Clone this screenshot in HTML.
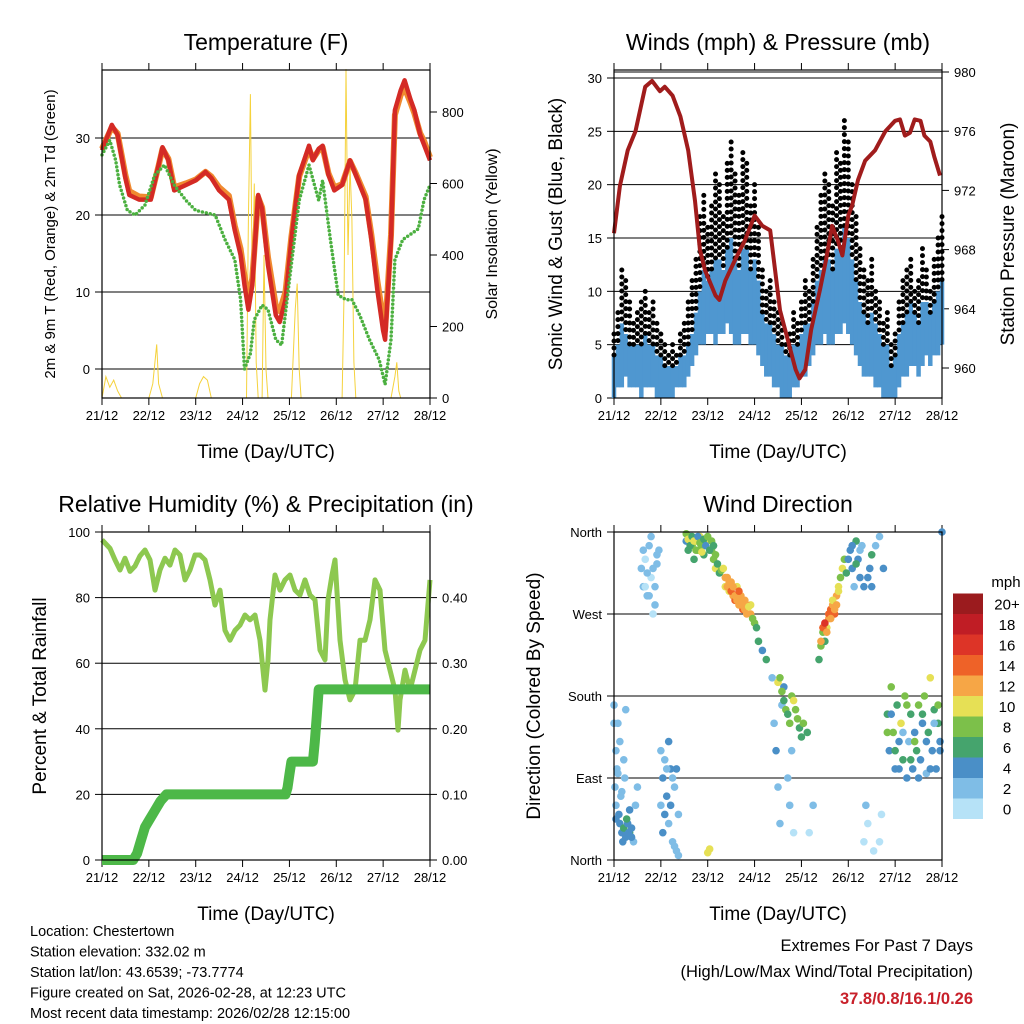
<!DOCTYPE html>
<html><head><meta charset="utf-8"><style>
body{margin:0;background:#fff;}
svg{display:block;font-family:"Liberation Sans",sans-serif;}
</style></head><body>
<svg id="c" width="1024" height="1024" viewBox="0 0 1024 1024" xmlns="http://www.w3.org/2000/svg"></svg>
<script>
// ---- Temperature panel data ----
const tempHours=[0,5,8,12,14,19,25,29,31,34,37,43,48,53,56,60,65,68,71,73,75,77,80,82,85,89,91,94,97,101,106,108,111,113,116,119,123,127,130,135,138,141,144,145,148,150,153,155,158,160,163,165,168];
const temp2m=[28.4,31.7,30.4,24.8,22.6,22,22,26.5,28.8,27.1,23.2,23.9,24.5,25.6,24.8,23.2,22,18,14.8,10.9,7.7,10.9,22.6,20.8,13.5,7,6.1,9,16.8,25.2,29,27.1,28.6,29,25.2,23.2,23.9,27.1,25.2,22,16.8,10.3,5,3.8,16.8,33.6,36.2,37.5,35,33.6,30.4,29.1,27.1];
const temp9m=[28.6,31.4,30.6,25.2,23.1,22.4,22.3,26.4,28.6,27.3,23.6,24.1,24.6,25.6,25,23.6,22.5,18.6,15.6,12,9,11.8,22.3,21,14.5,8.2,7.5,10,17.2,25,28.6,27.3,28.4,28.8,25.4,23.6,24,27,25.4,22.4,17.4,11.5,6.5,5,17.4,33,35.6,36.5,34.6,33.2,30.6,29.6,27.5];
const dewHours=[0,4,7,9,13,17,22,27,32,37,43,48,53,58,63,68,71,73,76,78,82,85,89,92,96,101,106,111,113,117,121,125,128,132,137,142,145,148,150,154,158,162,165,168];
const dew2m=[27.8,29.7,27.1,23.9,20.6,20,21.3,25.2,26.5,23.9,21.9,20.6,20.3,20,16.8,14.2,9,0,2,6.4,8.3,7.7,3.8,3.1,11.5,21.9,26.5,21.9,24.5,16.8,9.6,9,9,7,3.8,1.2,-2,3.8,14.2,16.8,17.5,18.2,22,23.9];
const solarHours=[0,2,4,6,8,10,24,26,28,29,31,48,50,52,54,56,74,75,76,77,78,79,80,82,83,84,85,97,99,100,101,102,123,124,125,126,127,128,129,130,148,150,151,152,153,168];
const solarVals=[0,60,30,50,20,0,0,40,150,40,0,0,40,60,50,0,0,500,850,300,600,100,0,0,400,80,0,0,250,320,80,0,0,300,920,400,650,500,100,0,0,60,100,20,0,0];
const tempTicks=[0,10,20,30];
const solarTicks=[0,200,400,600,800];
const dayLabels=["21/12","22/12","23/12","24/12","25/12","26/12","27/12","28/12"];
// ---- Wind panel data ----
const gust=[6,8,12,11,9,7,8,9,10,8,9,7,6,5,4,5,4,6,7,9,11,13,17,19,16,18,21,20,17,22,24,21,19,23,22,18,20,16,12,10,11,9,8,7,5,6,8,7,9,11,10,13,16,19,21,20,18,23,22,26,24,20,17,14,12,11,13,10,9,7,8,5,6,9,11,12,13,10,11,14,12,10,13,15,17];
const windHigh=[4,5,7,6,5,5,5,5,6,5,5,4,4,3,3,3,3,4,4,5,6,8,10,12,11,12,13,13,12,14,15,13,12,14,14,12,13,11,8,7,7,6,5,5,4,4,5,5,6,7,7,9,11,12,13,13,12,14,14,16,15,13,11,9,8,7,8,7,6,5,5,3,4,6,7,8,9,8,7,9,9,8,9,10,11];
const windLow=[0,1,1,2,1,1,1,0,1,1,1,0,0,0,0,0,1,1,1,2,3,4,5,5,6,6,5,6,6,7,6,5,5,6,6,5,5,4,3,2,2,1,1,0,0,0,1,1,2,2,3,4,5,5,6,5,5,6,6,7,6,5,4,3,2,2,2,1,1,0,0,0,0,1,2,2,3,3,2,3,4,3,4,4,5];
const presHours=[0,3,7,11,16,19.5,23.5,26,30,34,38,41.5,44,46.6,52,54,57,62,67,72,76,80,82.5,85,89,93,95,98,101,105.5,108.6,111.7,114.7,117,120,122,125,128.6,133.7,139,144,146.5,149,151.6,154,157,159,162,164,167];
const pressure=[969.1,972.3,974.7,976,979,979.4,978.7,979,978.4,977,974.7,971.3,968,966.6,964.9,964.6,965.9,967.3,968.6,970.3,969.6,969.3,966.6,963.9,961.9,959.9,959.3,959.9,962.6,965.3,967.3,969.6,968.6,967.6,970.3,971,972.7,974,974.7,976,976.7,976.8,975.7,975.9,976.8,976.7,975.7,975.3,974.3,973];
const windTicks=[0,5,10,15,20,25,30];
const presTicks=[960,964,968,972,976,980];
// ---- RH panel data ----
const rhX=[102,110,115,120,125,130,135,140,145,150,155,160,165,170,175,180,185,190,195,200,205,210,215,220,225,230,235,240,245,250,255,260,263,265,268,270,275,280,285,290,295,300,305,310,315,320,325,328,332,335,340,345,350,355,360,365,370,375,380,385,390,395,398,400,405,410,415,420,425,430];
const rhVals=[97.6,95,91.5,88.4,92,88,89.6,92.7,94.5,91.5,82.3,88.4,92,89.9,94.5,93,85.4,88.4,93,93,91.5,85.4,77.7,82.3,70,67,70,71.6,74.7,73.2,74.7,67,57.9,51.8,61,73.2,86.9,82.3,85.4,86.9,82.3,80.8,85.4,80.8,79.3,64,61,79.3,86.9,91.5,67,55,48.8,51.8,67,67,73.2,85.4,82.3,64,57.9,51.8,39.6,48.8,57.9,51.8,57.9,64,67,85.4];
const rainHours=[0,16,18,20,22,24,26,28,30,33,94,95,96,97,108,109,110,111,168];
const rainVals=[0,0,0.01,0.03,0.05,0.06,0.07,0.08,0.09,0.1,0.1,0.11,0.13,0.15,0.15,0.18,0.22,0.26,0.26];
const rhTicks=[0,20,40,60,80,100];
const rainTicks=[0,0.1,0.2,0.3,0.4];
// ---- Wind direction data ----
const dirHoursA=[1,1,2,2,3,3,4,4,5,5,6,6,7,8,8,9,10,11,12,15,16,17,18,19,20,21,22,24,25,26,27,28,29,30,31,32,33,37,38,39,40,41,42,43,44,45,46,47,48,49,50,51,52,54,57,58,59,60,61,62,63,64,65,66,67,68,70,72,74,76,78,81,82,83,84,85,86,87,91,92,93,94,95,96,97,99,100,102,105,106,107,108,109,110,111,112,113,114,115,116,117,118,119,121,122,123,124,125,126,127,128,129,130,131,132,133,140,141,142,143,144,145,146,147,148,149,150,151,152,153,154,155,156,157,158,159,160,161,162,163,164,165,166,167,168];
const dirDegA=[120,60,150,95,40,130,30,75,35,110,25,165,40,30,55,35,20,60,80,300,330,290,345,310,320,280,335,60,90,110,70,40,100,20,80,10,50,350,340,355,345,330,350,340,355,345,335,350,8,12,340,330,320,315,300,310,295,305,290,285,300,280,290,275,285,270,280,260,240,230,220,200,150,120,80,40,170,190,180,175,165,155,145,135,150,140,30,60,220,235,250,240,255,265,275,280,270,290,300,310,320,330,315,340,320,300,350,330,310,345,20,60,40,320,300,10,160,120,190,140,100,170,130,150,110,180,90,130,160,100,140,120,170,110,150,180,95,140,200,120,165,100,150,130,360];
const dirSpeedA=[2,3,2,3,4,3,5,2,6,3,4,2,5,6,4,4,3,2,2,2,1,2,3,1,2,2,2,3,4,3,5,3,4,2,3,2,3,5,6,4,8,7,10,9,11,8,7,10,10,11,9,8,10,6,11,12,10,13,12,14,11,12,13,14,12,13,11,8,6,5,7,3,2,4,3,2,3,5,9,10,8,9,7,6,8,6,1,2,7,8,9,7,10,12,14,13,15,12,11,9,10,8,6,4,5,3,6,4,5,3,1,2,1,4,5,0,6,4,8,9,5,7,4,10,6,8,4,3,6,5,4,7,9,4,5,8,3,6,10,4,7,4,6,5,5];
const dirHoursB=[0.5,1.5,2.5,3.5,4.5,5.5,6.5,7.5,0,0,1,9,14,15,16,17,18,19,20,21,22,23,24,25,26,27,28,29,30,31,32,33,37,38,39,40,41,42,43,44,45,46,47,48,49,50,51,52,53,55,56,57,58,59,60,61,62,63,64,65,66,67,68,69,70,71,73,84,85,86,87,88,89,90,89,90,91,92,106,107,108,109,110,111,112,113,114,115,120,122,124,126,128,130,132,134,136,138,136,137,140,142,144,146,148,150,152,154,156,158,160,162,164,166,167];
const dirDegB=[80,100,50,70,20,90,45,30,150,170,45,25,320,340,300,315,290,355,270,300,325,340,120,30,50,100,130,60,90,15,100,5,358,352,345,355,350,340,355,348,338,352,345,355,340,350,345,335,325,318,320,310,300,305,295,300,290,285,295,280,285,275,280,278,270,265,255,195,200,185,175,165,160,150,90,60,120,30,240,255,260,250,270,265,285,275,280,295,330,345,325,340,300,310,335,345,355,320,20,50,140,160,120,100,140,170,110,130,90,160,130,100,150,170,120];
const dirSpeedB=[3,2,4,3,5,3,6,4,2,3,4,5,2,3,1,2,3,2,1,2,3,2,3,4,4,3,4,5,3,2,4,2,8,10,7,6,11,8,5,9,10,6,4,8,7,9,6,8,7,9,10,12,13,12,14,12,13,12,14,13,12,13,12,11,12,8,7,10,8,9,7,8,6,9,2,3,2,1,12,14,16,13,15,12,10,13,12,10,5,4,6,3,5,4,6,3,2,4,1,1,8,4,6,5,3,9,6,8,4,6,5,4,3,8,4];
const dirHours=dirHoursA.concat(dirHoursB);
const dirDeg=dirDegA.concat(dirDegB);
const dirSpeed=dirSpeedA.concat(dirSpeedB);
const speedLabels=["0","2","4","6","8","10","12","14","16","18","20+"];
const dirLabels=["North","East","South","West","North"];
const dirTicks=[0,90,180,270,360];

const NS="http://www.w3.org/2000/svg";
const svg=document.getElementById('c');
function mk(tag,attrs,parent){const e=document.createElementNS(NS,tag);for(const k in attrs)e.setAttribute(k,attrs[k]);(parent||svg).appendChild(e);return e;}
function txt(s,x,y,size,anchor,parent,extra){const e=mk('text',Object.assign({x:x,y:y,'font-size':size,'text-anchor':anchor||'middle',fill:'#000'},extra||{}),parent);e.textContent=s;return e;}
function lin(a0,a1,p0,p1){return v=>p0+(v-a0)/(a1-a0)*(p1-p0);}
function pathOf(xs,ys,fx,fy){let d='';for(let i=0;i<Math.min(xs.length,ys.length);i++){d+=(i?'L':'M')+fx(xs[i]).toFixed(1)+','+fy(ys[i]).toFixed(1);}return d;}

function frame(x0,y0,x1,y1,name,title,xlab){
  const g=mk('g',{});
  
  
  const fx=lin(0,168,x0,x1);
  dayLabels.forEach((s,i)=>{
    const x=fx(i*24);
    mk('line',{x1:x,x2:x,y1:y0,y2:y0-7,stroke:'#000','stroke-width':1},g);
    mk('line',{x1:x,x2:x,y1:y1,y2:y1+7,stroke:'#000','stroke-width':1},g);
    const t=txt(s,x,y1+22,13,'middle',g);
    
    
  });
  const tt=txt(title,(x0+x1)/2,y0-20,23,'middle',g);
  
  
  const xl=txt(xlab,(x0+x1)/2,y1+60,19,'middle',g);
  
  
  return {g,fx};
}
function border(x0,y0,x1,y1,g){mk('rect',{x:x0,y:y0,width:x1-x0,height:y1-y0,fill:'none',stroke:'#000','stroke-width':1.2},g);}
function yTicks(ticks,fy,x,side,fmt,g,grid,x1){
  ticks.forEach(v=>{
    const y=fy(v);
    if(grid) mk('line',{x1:x,x2:x1,y1:y,y2:y,stroke:'#000','stroke-width':1},g);
    mk('line',{x1:x,x2:x+(side<0?-7:7),y1:y,y2:y,stroke:'#000','stroke-width':1},g);
    const t=txt(fmt(v),x+(side<0?-12:12),y+5,13,side<0?'end':'start',g);
    
    
  });
}
function vlabel(s,x,y,size,g,name){const t=txt(s,x,y,size,'middle',g,{transform:'rotate(-90 '+x+' '+y+')'});}

// ===== Panel 1: Temperature =====
{
 const x0=102,x1=430,y0=70,y1=398;
 const P=frame(x0,y0,x1,y1,'temperature-panel','Temperature (F)','Time (Day/UTC)');
 const fy=lin(0,30,369,138), fs=lin(0,800,398,112);
 yTicks(tempTicks,fy,x0,-1,v=>String(v),P.g,true,x1);
 yTicks(solarTicks,fs,x1,1,v=>String(v),P.g,false);
 const s=mk('path',{d:pathOf(solarHours,solarVals,P.fx,fs),fill:'none',stroke:'#f5d23c','stroke-width':1},P.g);
 
 
 const o=mk('path',{d:pathOf(tempHours,temp9m,P.fx,fy),fill:'none',stroke:'#f08a30','stroke-width':6,'stroke-linejoin':'round'},P.g);
 
 
 const r=mk('path',{d:pathOf(tempHours,temp2m,P.fx,fy),fill:'none',stroke:'#d42a25','stroke-width':4.5,'stroke-linejoin':'round'},P.g);
 
 
 const d=mk('path',{d:pathOf(dewHours,dew2m,P.fx,fy),fill:'none',stroke:'#4cb040','stroke-width':3.5,'stroke-dasharray':'0 4','stroke-linecap':'round'},P.g);
 
 
 border(x0,y0,x1,y1,P.g);
 vlabel('2m & 9m T (Red, Orange) & 2m Td (Green)',55,234,15,P.g,'y-axis-title-left');
 vlabel('Solar Insolation (Yellow)',497,234,16,P.g,'y-axis-title-right');
}
// ===== Panel 2: Winds =====
{
 const x0=614,x1=942,y0=70,y1=398;
 const P=frame(x0,y0,x1,y1,'winds-panel','Winds (mph) & Pressure (mb)','Time (Day/UTC)');
 const fy=lin(0,30,398,78), fp=lin(960,980,368,72);
 yTicks(windTicks,fy,x0,-1,v=>String(v),P.g,true,x1);
 yTicks(presTicks,fp,x1,1,v=>String(v),P.g,false);
 mk('line',{x1:x0,x2:x1,y1:fp(980),y2:fp(980),stroke:'#000','stroke-width':1},P.g);
 const n=Math.min(gust.length,windHigh.length,windLow.length);
 for(let i=0;i<n;i++){
   const x=P.fx(i*2);
   const b=mk('line',{x1:x,x2:x,y1:fy(windLow[i]),y2:fy(windHigh[i]),stroke:'#4f97d0','stroke-width':4.5},P.g);
   
   
 }
 for(let i=0;i<n;i++){
   const x=P.fx(i*2);
   const g=mk('line',{x1:x,x2:x,y1:fy(gust[i]),y2:fy(windHigh[i]),stroke:'#000','stroke-width':5,'stroke-linecap':'round','stroke-dasharray':'0 7'},P.g);
   
   
 }
 const p=mk('path',{d:pathOf(presHours,pressure,P.fx,fp),fill:'none',stroke:'#a01c1c','stroke-width':4,'stroke-linejoin':'round'},P.g);
 
 
 border(x0,y0,x1,y1,P.g);
 vlabel('Sonic Wind & Gust (Blue, Black)',562,234,19,P.g,'y-axis-title-left');
 vlabel('Station Pressure (Maroon)',1014,234,19,P.g,'y-axis-title-right');
}
// ===== Panel 3: RH =====
{
 const x0=102,x1=430,y0=532,y1=860;
 const P=frame(x0,y0,x1,y1,'humidity-panel','Relative Humidity (%) & Precipitation (in)','Time (Day/UTC)');
 const fy=lin(0,100,860,532), fr=lin(0,0.1,860,794.4);
 const fhr=lin(102,430,102,430);
 yTicks(rhTicks,fy,x0,-1,v=>String(v),P.g,true,x1);
 yTicks(rainTicks,fr,x1,1,v=>v.toFixed(2),P.g,false);
 const h=mk('path',{d:pathOf(rhX,rhVals,fhr,fy),fill:'none',stroke:'#8dc850','stroke-width':5,'stroke-linejoin':'round'},P.g);
 
 
 const r=mk('path',{d:pathOf(rainHours,rainVals,P.fx,fr),fill:'none',stroke:'#4db848','stroke-width':10,'stroke-linejoin':'round'},P.g);
 
 
 border(x0,y0,x1,y1,P.g);
 vlabel('Percent & Total Rainfall',46,696,19,P.g,'y-axis-title-left');
}
// ===== Panel 4: Wind direction =====
{
 const x0=614,x1=942,y0=532,y1=860;
 const P=frame(x0,y0,x1,y1,'wind-direction-panel','Wind Direction','Time (Day/UTC)');
 const fy=lin(0,360,860,532);
 const cols=['#b6e2f7','#7fbde6','#4a8fc7','#45a46d','#7cc04a','#e6e055','#f6a646','#ee6228','#dd3427','#c01d25','#9b1b1e'];
 dirTicks.forEach((v,i)=>{
   const y=fy(v);
   if(i>0&&i<4) mk('line',{x1:x0,x2:x1,y1:y,y2:y,stroke:'#000','stroke-width':1},P.g);
   mk('line',{x1:x0,x2:x0-7,y1:y,y2:y,stroke:'#000'},P.g);
   const t=txt(dirLabels[i],x0-12,y+5,13,'end',P.g);
   
   
 });
 const n=Math.min(dirHours.length,dirDeg.length,dirSpeed.length);
 for(let i=0;i<n;i++){
   const k=Math.min(10,Math.floor(dirSpeed[i]/2));
   const c=mk('circle',{cx:P.fx(dirHours[i]),cy:fy(dirDeg[i]),r:3.8,fill:cols[k]},P.g);
   
   
 }
 border(x0,y0,x1,y1,P.g);
 vlabel('Direction (Colored By Speed)',540,696,19,P.g,'y-axis-title-left');
 const lg=mk('g',{});
 
 
 speedLabels.forEach((s,i)=>{
   const y=819-(i+1)*20.5;
   mk('rect',{x:953,y:y,width:30,height:20.5,fill:cols[i]},lg);
   const t=txt(s,1007,y+16,15,'middle',lg);
   
   
 });
 const m=txt('mph',1006,587,15,'middle',lg);
 
 
}
// ===== Footer text =====
const info=["Location: Chestertown","Station elevation: 332.02 m","Station lat/lon: 43.6539; -73.7774","Figure created on Sat, 2026-02-28, at 12:23 UTC","Most recent data timestamp: 2026/02/28 12:15:00"];
info.forEach((s,i)=>{
  const t=txt(s,30,936+i*20.5,14.5,'start');
  
  
});
const e1=txt('Extremes For Past 7 Days',973,951,16.5,'end');


const e2=txt('(High/Low/Max Wind/Total Precipitation)',973,977,16.5,'end');


const e3=txt('37.8/0.8/16.1/0.26',973,1004,16.5,'end',null,{fill:'#c8202a','font-weight':'bold'});


</script>
</body></html>
